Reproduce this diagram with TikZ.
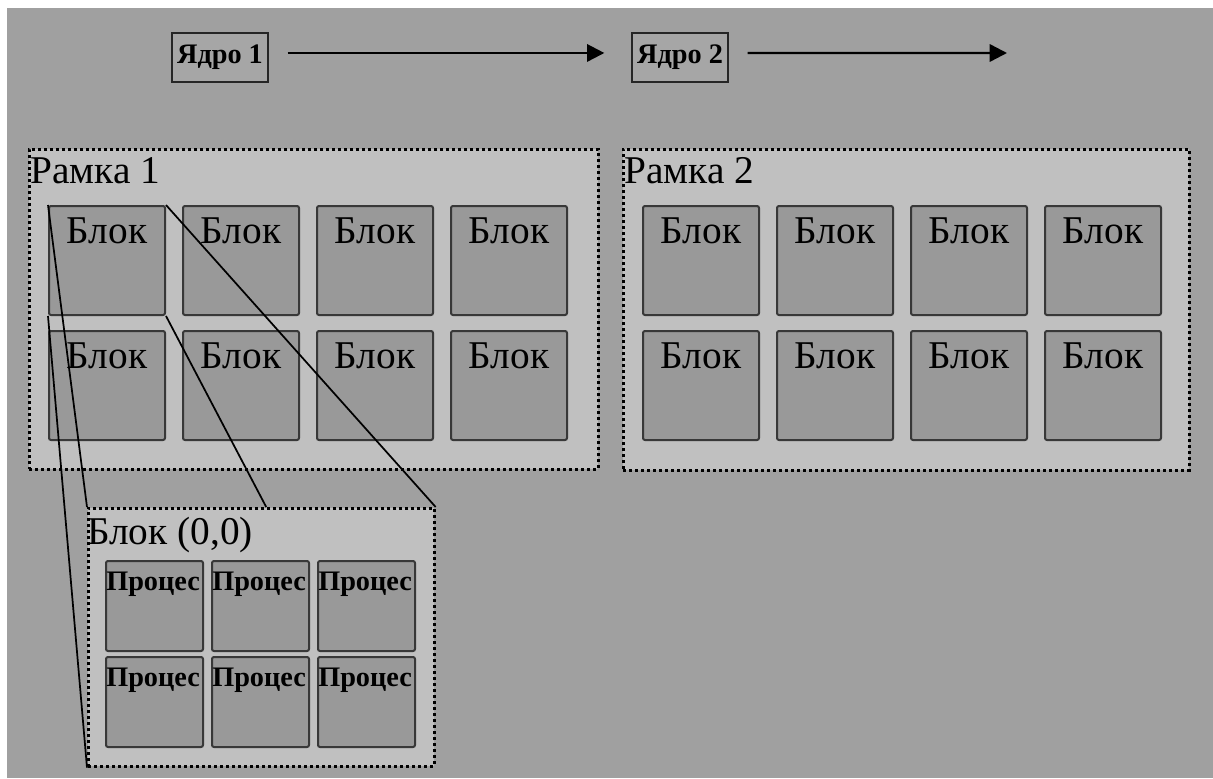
\documentclass[tikz,border=0pt]{standalone}
\usepackage{fontspec}
\setmainfont{Liberation Serif}
\usetikzlibrary{arrows.meta,calc}

\definecolor{fon}{HTML}{A0A0A0}
\definecolor{ramkafon}{HTML}{C0C0C0}
\definecolor{blokfon}{HTML}{999999}
\definecolor{blokkray}{HTML}{383838}
\definecolor{yadrofon}{HTML}{A6A6A6}

\tikzset{
  ramka/.style={draw=black, fill=ramkafon, line width=2pt, dash pattern=on 2.2pt off 2.3pt,
    anchor=north west, inner sep=0pt},
  ramkaname/.style={anchor=north west, inner sep=0pt, xshift=1.5pt, yshift=-7pt,
    font=\fontsize{29.5}{32}\selectfont},
  blok/.style={draw=blokkray, fill=blokfon, line width=1.5pt, rounded corners=1.5pt,
    anchor=north west, inner sep=0pt, minimum width=87pt, minimum height=81.75pt,
    label={[anchor=north, inner sep=0pt, yshift=-9.5pt, font=\fontsize{29.5}{32}\selectfont]north:Блок}},
  proc/.style={draw=blokkray, fill=blokfon, line width=1.5pt, rounded corners=1.5pt,
    anchor=north west, inner sep=0pt, minimum width=72.75pt, minimum height=67.5pt,
    label={[anchor=north west, inner sep=0pt, xshift=0.75pt, yshift=-9pt, font=\bfseries\fontsize{21.2}{24}\selectfont]north west:Процес}},
  yadro/.style={draw=black!85, fill=yadrofon, line width=1.5pt, inner sep=0pt,
    minimum width=72pt, minimum height=36.75pt, font=\bfseries\fontsize{21.2}{24}\selectfont},
  strelka/.style={line width=1.8pt, -{Triangle[length=13pt,width=13pt]}},
  luch/.style={line width=1.3pt, black}
}

\begin{document}
\begin{tikzpicture}[x=0.75pt, y=-0.75pt]

\useasboundingbox (0,0) rectangle (1213,778);
\fill[fon] (7,8) rectangle (1213,778);

% cores and time arrows
\node[yadro] (yadro1) at (220,57.5) {Ядро 1};
\node[yadro] (yadro2) at (680,57.5) {Ядро 2};
\coordinate (dalee) at (1007,53);
\draw[strelka, shorten <=14pt, shorten >=20pt] ([yshift=3.4pt]yadro1.east) -- ([yshift=3.4pt]yadro2.west);
\draw[strelka, shorten <=14pt] ([yshift=3.4pt]yadro2.east) -- (dalee);

% frames with blocks
\node[ramka, minimum width=426.75pt, minimum height=240pt] (ramka1) at (28,148) {};
\node[ramkaname] (ramka1name) at (ramka1.north west) {Рамка 1};
\node[ramka, minimum width=424.5pt, minimum height=240.75pt] (ramka2) at (622,148) {};
\node[ramkaname] (ramka2name) at (ramka2.north west) {Рамка 2};

\foreach \r in {1,2}
  \foreach \c in {1,...,4} {
    \node[blok] (b1-\r-\c) at ({48+134*(\c-1)},{205+125*(\r-1)}) {};
    \node[blok] (b2-\r-\c) at ({642+134*(\c-1)},{205+125*(\r-1)}) {};
  }

% block (0,0) enlarged
\node[ramka, minimum width=259.5pt, minimum height=193.5pt] (lupa) at (87,507) {};
\node[ramkaname, xshift=-1.5pt, yshift=-0.25pt] (lupaname) at (lupa.north west) {Блок (0,0)};

\foreach \r in {1,2}
  \foreach \c in {1,2,3}
    \node[proc] (p-\r-\c) at ({105+106*(\c-1)},{560+96*(\r-1)}) {};

\coordinate (lupaverh) at ($(lupa.north west)!0.514!(lupa.north east)$);
\draw[luch] (b1-1-1.north west) -- (lupa.north west);
\draw[luch] (b1-1-1.south west) -- (lupa.south west);
\draw[luch] (b1-1-1.north east) -- (lupa.north east);
\draw[luch] (b1-1-1.south east) -- (lupaverh);

\end{tikzpicture}
\end{document}
